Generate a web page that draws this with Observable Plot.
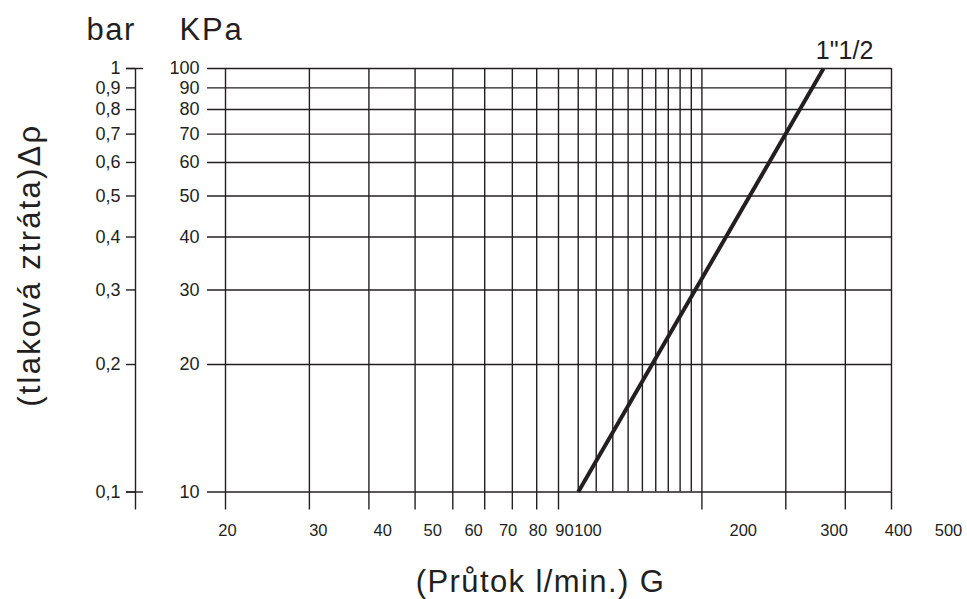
<!DOCTYPE html>
<html>
<head>
<meta charset="utf-8">
<script src="https://cdn.jsdelivr.net/npm/d3@7"></script>
<script src="https://cdn.jsdelivr.net/npm/@observablehq/plot@0.6"></script>
<style>
  html, body { margin: 0; padding: 0; background: #fff; }
  #chart { position: relative; width: 967px; height: 599px; }
  #chart svg { position: absolute; top: 0; left: 0; }
</style>
</head>
<body>
<div id="chart"></div>
<script>
// ---- data ----
const kpaTicks = [10, 20, 30, 40, 50, 60, 70, 80, 90, 100];
const barLabels = ["0,1", "0,2", "0,3", "0,4", "0,5", "0,6", "0,7", "0,8", "0,9", "1"];
const flowGrid = [20, 30, 40, 50, 60, 70, 80, 90, 100, 110, 120, 130, 140, 150, 160, 170, 180, 190, 200, 300, 400, 500];
const flowLabels = [20, 30, 40, 50, 60, 70, 80, 90, 100, 200, 300, 400, 500];
const curveName = "1\"1/2";
const curveFlow = [110, 360];
const curveDp = [10, 100];
const curve = curveFlow.map((q, i) => ({q, dp: curveDp[i]}));
const yTitle = "(tlaková ztráta)Δρ";
const xTitle = "(Průtok l/min.) G";
const headers = ["bar", "KPa"];

const ink = "#231f20";
const font = "'Liberation Sans', Arial, Helvetica, sans-serif";
const xDomain = [20, 500];
const yDomain = [10, 100];

const main = Plot.plot({
  width: 967,
  height: 599,
  marginLeft: 207,
  marginRight: 76,
  marginTop: 68,
  marginBottom: 107.5,
  style: {fontFamily: font, color: ink, background: "#fff"},
  x: {type: "log", domain: xDomain, insetLeft: 18},
  y: {type: "log", domain: yDomain},
  marks: [
    // horizontal grid
    Plot.ruleY(kpaTicks, {stroke: ink, strokeWidth: 1.4}),
    // vertical grid
    Plot.ruleX(flowGrid, {y1: yDomain[1], y2: yDomain[0], stroke: ink, strokeWidth: 1.4}),
    // ticks below bottom line
    Plot.axisX(flowLabels, {tickSize: 18, tickFormat: () => "", label: null, stroke: ink, strokeWidth: 1.4}),
    // KPa axis
    Plot.axisY(kpaTicks, {anchor: "left", tickSize: 0, tickPadding: 8, fontSize: 18, label: null, tickFormat: d => String(d)}),
    // bar axis
    Plot.axisY(kpaTicks, {anchor: "left", dx: -72, tickSize: 9, tickPadding: 6, fontSize: 18, label: null,
      stroke: ink, strokeWidth: 1.4,
      tickFormat: d => barLabels[kpaTicks.indexOf(d)]}),
    Plot.ruleX([xDomain[0]], {y1: yDomain[1], y2: yDomain[0], dx: -90, insetBottom: -18, stroke: ink, strokeWidth: 1.4}),
    Plot.ruleY([yDomain[0], yDomain[1]], {x1: xDomain[0], x2: xDomain[0], dx: -90, insetLeft: -9, insetRight: -8, stroke: ink, strokeWidth: 1.4}),
    // headers
    Plot.text([headers[0]], {frameAnchor: "top-left", text: d => d, textAnchor: "start", lineAnchor: "middle", dx: -121, dy: -38.6, fontSize: 31, fill: ink}),
    Plot.text([headers[1]], {frameAnchor: "top-left", text: d => d, textAnchor: "start", lineAnchor: "middle", dx: -28, dy: -38.6, fontSize: 31, fill: ink}),
    // axis titles
    Plot.text([yTitle], {frameAnchor: "left", text: d => d, textAnchor: "middle", lineAnchor: "middle", rotate: -90, dx: -177, dy: -15, fontSize: 31, fill: ink}),
    Plot.text([xTitle], {frameAnchor: "bottom", text: d => d, textAnchor: "middle", lineAnchor: "middle", dy: 90, dx: -9, fontSize: 31, fill: ink}),
    // curve
    Plot.line(curve, {x: "q", y: "dp", stroke: ink, strokeWidth: 4, strokeLinecap: "butt"}),
    Plot.text(curve.slice(-1), {x: "q", y: "dp", text: () => curveName, dx: 21, dy: -17.7, fontSize: 25, fill: ink})
  ]
});

// letter spacing of the large titles (the reference face is slightly wider)
const spacing = new Map([[headers[0], 1.5], [headers[1], 1.8], [yTitle, 2.2], [xTitle, 1.4]]);
d3.select(main).selectAll("text").each(function () {
  const s = spacing.get(this.textContent);
  if (s != null) {
    this.setAttribute("letter-spacing", s);
    this.style.letterSpacing = s + "px";
  }
});

// tick labels of the flow axis, drawn on their own (as spaced in the reference)
const labels = Plot.plot({
  width: 967,
  height: 599,
  marginLeft: 227,
  marginRight: 19,
  marginTop: 0,
  marginBottom: 89,
  style: {fontFamily: font, color: ink, background: "transparent", pointerEvents: "none"},
  x: {type: "log", domain: xDomain, axis: null},
  marks: [
    Plot.text(flowLabels, {x: d => d, text: d => String(d), frameAnchor: "bottom", lineAnchor: "top", textAnchor: "middle", dy: 14, fontSize: 16.5, fill: ink})
  ]
});

const el = document.getElementById("chart");
el.append(main, labels);
</script>
</body>
</html>
